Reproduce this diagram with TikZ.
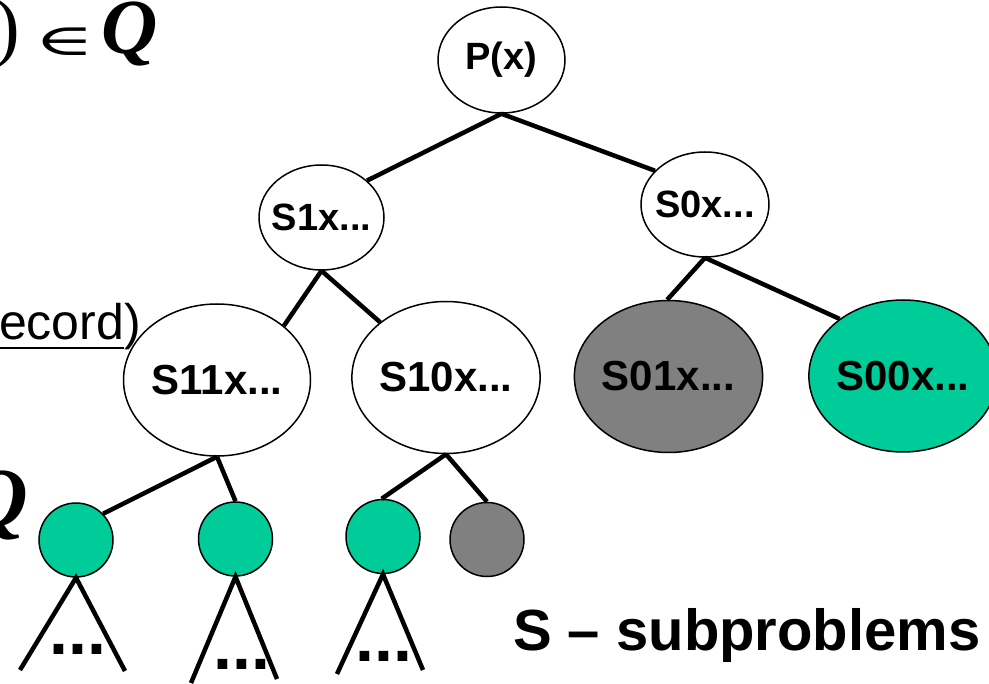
\documentclass[tikz,border=0pt]{standalone}
\usepackage{graphicx}
\usepackage{fontspec}
\setmainfont{Liberation Sans}
\newfontfamily\serifQ{Liberation Serif}
\newfontfamily\symfont{DejaVu Serif}
\usetikzlibrary{shapes.geometric}
\definecolor{leafgreen}{HTML}{00CC99}
\definecolor{prunegray}{HTML}{808080}

\begin{document}
\begin{tikzpicture}[x=1pt,y=-1pt,
  subnode/.style={ellipse, draw=black, line width=1.5pt, fill=white, inner sep=0pt,
    font=\bfseries\fontsize{38}{40}\selectfont},
  bignode/.style={subnode, font=\bfseries\fontsize{42}{44}\selectfont,
    minimum width=187pt, minimum height=152pt},
  leafnode/.style={circle, draw=black, line width=1.5pt, minimum size=74pt, inner sep=0pt},
  edge/.style={line width=4.5pt},
  dots/.style={anchor=base, inner sep=0pt, font=\bfseries\fontsize{68}{70}\selectfont},
  frag/.style={inner sep=0pt},
]
\useasboundingbox (0,0) rectangle (989,684);

% left-hand text fragments
\node[frag, anchor=base west, font=\serifQ\fontsize{77}{79}\selectfont] (paren) at (-6,53) {)};
\node[frag, font=\symfont\fontsize{44}{46}\selectfont] (memb) at (65,42)
  {\scalebox{1.85}[1]{∈}};
\node[frag, anchor=base east, font=\serifQ\fontsize{78}{80}\selectfont] (qtop) at (158,54)
  {\textbf{\textit{Q}}};
\node[frag, anchor=base west, font=\fontsize{50}{52}\selectfont] (rec) at (-1,340) {ecord};
\node[frag, anchor=base west, font=\fontsize{50}{52}\selectfont] (recp) at (rec.base east) {)};
\draw[line width=2.5pt] ([yshift=-8pt]rec.base west) -- ([yshift=-8pt]rec.base east);
\node[frag, anchor=base east, font=\serifQ\fontsize{84}{86}\selectfont] (qleft) at (28,527)
  {\textbf{\textit{Q}}};

% tree of subproblems
\node[subnode, minimum width=127pt, minimum height=106pt] (P) at (501.5,60)
  {\makebox[0pt]{P(x)}};
\node[subnode, minimum width=125pt, minimum height=105pt] (S1) at (321.5,217.5)
  {\makebox[0pt]{S1x...}};
\node[subnode, minimum width=128pt, minimum height=105pt] (S0) at (705,204.5)
  {\makebox[0pt]{S0x...}};
\node[bignode] (S11) at (217,380) {S11x...};
\node[bignode] (S10) at (446,377.5) {S10x...};
\node[bignode, fill=prunegray] (S01) at (668.5,376.5) {S01x...};
\node[bignode, fill=leafgreen] (S00) at (903,376) {S00x...};

\node[leafnode, fill=leafgreen] (c1) at (76,540) {};
\node[leafnode, fill=leafgreen] (c2) at (235.5,539) {};
\node[leafnode, fill=leafgreen] (c3) at (383,536.5) {};
\node[leafnode, fill=prunegray] (c4) at (487,539.5) {};

\draw[edge] (P.south) -- (S1.39);
\draw[edge] (P.south) -- (S0.146);
\draw[edge] (S1.south) -- (S11.39);
\draw[edge] (S1.south) -- (S10.140);
\draw[edge] (S0.south) -- (S01.91);
\draw[edge] (S0.south) -- (S00.138);
\draw[edge] (S11.south) -- (c1.44);
\draw[edge] (S11.south) -- (c2.north);
\draw[edge] (S10.south) -- (c3.92);
\draw[edge] (S10.south) -- (c4.north);

% unexplored subtrees below the leaves
\coordinate (t1l) at (20,670);
\coordinate (t1r) at (125,671);
\coordinate (t2l) at (191,683);
\coordinate (t2r) at (277,679);
\coordinate (t3l) at (337,674);
\coordinate (t3r) at (423,670);
\draw[edge] (t1l) -- (c1.south) -- (t1r);
\draw[edge] (t2l) -- (c2.south) -- (t2r);
\draw[edge] (t3l) -- (c3.south) -- (t3r);
\node[dots] (d1) at (78,655) {...};
\node[dots] (d2) at (242,669) {...};
\node[dots] (d3) at (384,661) {...};

\node[anchor=base west, inner sep=0pt, font=\bfseries\fontsize{58}{60}\selectfont]
  (legend) at (513,650) {S – subproblems};
\end{tikzpicture}
\end{document}
